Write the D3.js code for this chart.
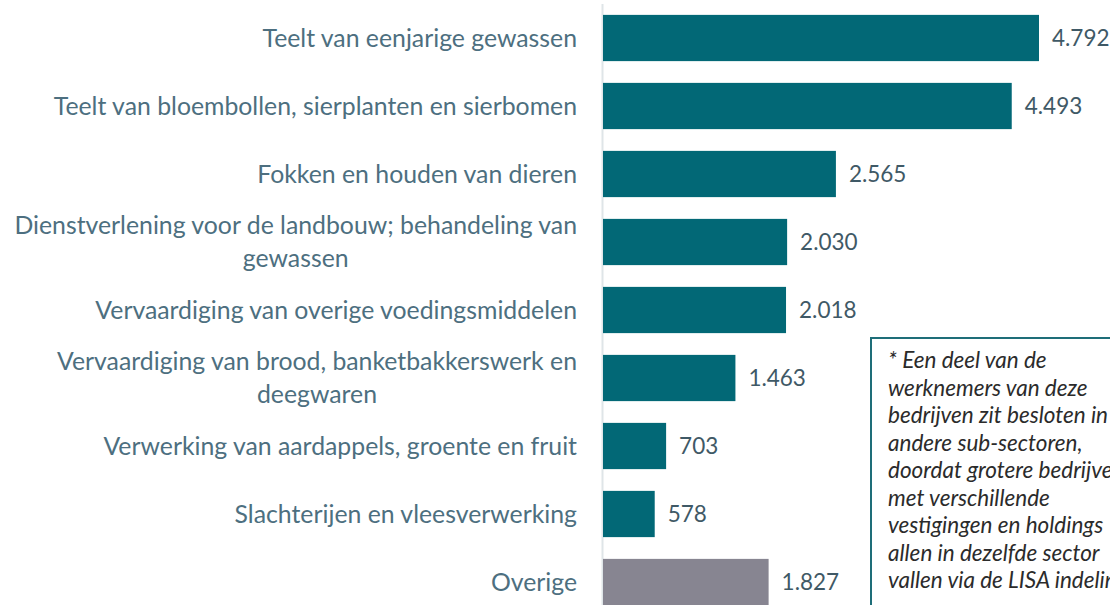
<!DOCTYPE html>
<html><head><meta charset="utf-8">
<script src="https://cdn.jsdelivr.net/npm/d3@7"></script>
<style>html,body{margin:0;padding:0;background:#fff;overflow:hidden}</style>
</head><body>
<svg id="c" width="1110" height="605"></svg>
<script>
const categories = [
  "Teelt van eenjarige gewassen",
  "Teelt van bloembollen, sierplanten en sierbomen",
  "Fokken en houden van dieren",
  "Dienstverlening voor de landbouw; behandeling van gewassen",
  "Vervaardiging van overige voedingsmiddelen",
  "Vervaardiging van brood, banketbakkerswerk en deegwaren",
  "Verwerking van aardappels, groente en fruit",
  "Slachterijen en vleesverwerking",
  "Overige"
];
const values = [4792, 4493, 2565, 2030, 2018, 1463, 703, 578, 1827];
const valueLabels = ["4.792","4.493","2.565","2.030","2.018","1.463","703","578","1.827"];
const noteLines = [
  "* Een deel van de",
  "werknemers van deze",
  "bedrijven zit besloten in",
  "andere sub-sectoren,",
  "doordat grotere bedrijven",
  "met verschillende",
  "vestigingen en holdings",
  "allen in dezelfde sector",
  "vallen via de LISA indeling"
];

const FONT = "'Source Sans Pro', Lato, 'Open Sans', sans-serif";
const svg = d3.select("#c");
const x = d3.scaleLinear().domain([0, 4792]).range([602, 1039]);
const y = d3.scaleBand().domain(categories).range([4, 616]).paddingInner(0.32).paddingOuter(0.16);

// axis line
svg.append("line").attr("x1",602.5).attr("x2",602.5).attr("y1",4).attr("y2",605)
  .attr("stroke","#dfe5e8").attr("stroke-width",2);

svg.selectAll("rect.bar").data(categories).join("rect").attr("class","bar")
  .attr("x", x(0)+1).attr("y", d=>y(d))
  .attr("width", (d,i)=>x(values[i])-x(0)-1).attr("height", y.bandwidth())
  .attr("fill", (d,i)=> d==="Overige" ? "#878591" : "#026876");

svg.selectAll("text.val").data(categories).join("text").attr("class","val")
  .attr("x",(d,i)=>x(values[i])+13).attr("y",d=>y(d)+y.bandwidth()/2)
  .attr("dy","0.36em").attr("font-family",FONT).attr("font-size",22.5)
  .attr("fill","#3f5966").text((d,i)=>valueLabels[i]);

// category labels with wrapping
const lab = svg.selectAll("text.cat").data(categories).join("text").attr("class","cat")
  .attr("x",577).attr("text-anchor","end").attr("font-family",FONT).attr("font-size",24.8)
  .attr("fill","#4d6f80");
lab.each(function(d){
  const t = d3.select(this);
  const words = d.split(" ");
  const maxW = 575;
  let lines = [], cur = [];
  const probe = t.append("tspan");
  words.forEach(w=>{
    const test = cur.concat([w]).join(" ");
    probe.text(test);
    if (probe.node().getComputedTextLength() > maxW && cur.length){ lines.push(cur.join(" ")); cur=[w]; }
    else cur.push(w);
  });
  lines.push(cur.join(" "));
  probe.remove();
  const cy = y(d)+y.bandwidth()/2, lh = 33;
  lines.forEach((l,k)=>{
    t.append("tspan").attr("x", 577)
      .attr("y", cy + (k-(lines.length-1)/2)*lh).attr("dy","0.36em").text(l);
  });
  if (lines.length>1){
    const tsp = t.selectAll("tspan").nodes();
    const w0 = tsp[0].getComputedTextLength();
    tsp.forEach((n,k)=>{ if(k>0){ const wk=n.getComputedTextLength(); d3.select(n).attr("x", 577 - (w0-wk)/2); } });
  }
});

// note box
const bx = 871, by = 338;
svg.append("rect").attr("x",bx).attr("y",by).attr("width",300).attr("height",320)
  .attr("fill","#fff").attr("stroke","#1e6e79").attr("stroke-width",2);
svg.append("text").attr("font-family",FONT).attr("font-size",22.5).attr("font-style","italic")
  .attr("fill","#2b2b2b")
  .selectAll("tspan").data(noteLines).join("tspan")
  .attr("x",bx+17).attr("y",(d,i)=>360+i*27.5).attr("dy","0.36em").text(d=>d);
</script>
</body></html>
